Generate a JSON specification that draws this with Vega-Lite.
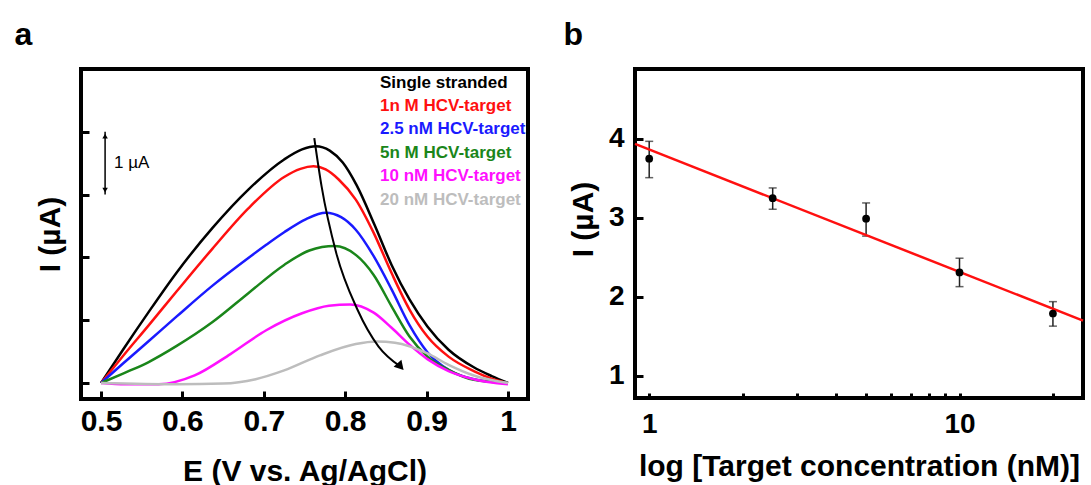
{
  "$schema": "https://vega.github.io/schema/vega-lite/v6.json",
  "background": "white",
  "padding": {"left": 12, "top": 17, "right": 5, "bottom": 0},
  "autosize": {"type": "pad"},
  "spacing": 31,
  "config": {
    "font": "Liberation Sans",
    "view": {"stroke": "black", "strokeWidth": 4},
    "axis": {
      "grid": false, "domain": false,
      "labelFont": "Liberation Sans", "titleFont": "Liberation Sans",
      "labelFontWeight": "bold", "titleFontWeight": "bold",
      "labelColor": "black", "titleColor": "black", "tickColor": "black",
      "tickWidth": 3, "tickSize": -8
    }
  },
  "datasets": {
    "dpv": [
      {"s": "Single stranded", "E": 0.500, "I": 0},
      {"s": "Single stranded", "E": 0.527, "I": 0.53},
      {"s": "Single stranded", "E": 0.558, "I": 1.12},
      {"s": "Single stranded", "E": 0.593, "I": 1.76},
      {"s": "Single stranded", "E": 0.637, "I": 2.47},
      {"s": "Single stranded", "E": 0.681, "I": 3.08},
      {"s": "Single stranded", "E": 0.725, "I": 3.56},
      {"s": "Single stranded", "E": 0.747, "I": 3.72},
      {"s": "Single stranded", "E": 0.764, "I": 3.77},
      {"s": "Single stranded", "E": 0.781, "I": 3.70},
      {"s": "Single stranded", "E": 0.797, "I": 3.51},
      {"s": "Single stranded", "E": 0.814, "I": 3.15},
      {"s": "Single stranded", "E": 0.836, "I": 2.52},
      {"s": "Single stranded", "E": 0.857, "I": 1.88},
      {"s": "Single stranded", "E": 0.879, "I": 1.33},
      {"s": "Single stranded", "E": 0.901, "I": 0.90},
      {"s": "Single stranded", "E": 0.927, "I": 0.53},
      {"s": "Single stranded", "E": 0.958, "I": 0.25},
      {"s": "Single stranded", "E": 0.980, "I": 0.11},
      {"s": "Single stranded", "E": 1.000, "I": 0},
      {"s": "1n M HCV-target", "E": 0.500, "I": 0},
      {"s": "1n M HCV-target", "E": 0.527, "I": 0.43},
      {"s": "1n M HCV-target", "E": 0.558, "I": 0.91},
      {"s": "1n M HCV-target", "E": 0.593, "I": 1.46},
      {"s": "1n M HCV-target", "E": 0.637, "I": 2.14},
      {"s": "1n M HCV-target", "E": 0.681, "I": 2.78},
      {"s": "1n M HCV-target", "E": 0.725, "I": 3.28},
      {"s": "1n M HCV-target", "E": 0.745, "I": 3.41},
      {"s": "1n M HCV-target", "E": 0.761, "I": 3.45},
      {"s": "1n M HCV-target", "E": 0.776, "I": 3.40},
      {"s": "1n M HCV-target", "E": 0.792, "I": 3.24},
      {"s": "1n M HCV-target", "E": 0.813, "I": 2.92},
      {"s": "1n M HCV-target", "E": 0.835, "I": 2.39},
      {"s": "1n M HCV-target", "E": 0.857, "I": 1.75},
      {"s": "1n M HCV-target", "E": 0.879, "I": 1.17},
      {"s": "1n M HCV-target", "E": 0.901, "I": 0.74},
      {"s": "1n M HCV-target", "E": 0.927, "I": 0.42},
      {"s": "1n M HCV-target", "E": 0.958, "I": 0.19},
      {"s": "1n M HCV-target", "E": 0.980, "I": 0.07},
      {"s": "1n M HCV-target", "E": 1.000, "I": 0},
      {"s": "2.5 nM HCV-target", "E": 0.500, "I": 0},
      {"s": "2.5 nM HCV-target", "E": 0.527, "I": 0.31},
      {"s": "2.5 nM HCV-target", "E": 0.558, "I": 0.66},
      {"s": "2.5 nM HCV-target", "E": 0.593, "I": 1.06},
      {"s": "2.5 nM HCV-target", "E": 0.637, "I": 1.55},
      {"s": "2.5 nM HCV-target", "E": 0.681, "I": 1.99},
      {"s": "2.5 nM HCV-target", "E": 0.703, "I": 2.20},
      {"s": "2.5 nM HCV-target", "E": 0.725, "I": 2.40},
      {"s": "2.5 nM HCV-target", "E": 0.752, "I": 2.61},
      {"s": "2.5 nM HCV-target", "E": 0.776, "I": 2.71},
      {"s": "2.5 nM HCV-target", "E": 0.795, "I": 2.64},
      {"s": "2.5 nM HCV-target", "E": 0.813, "I": 2.44},
      {"s": "2.5 nM HCV-target", "E": 0.835, "I": 2.02},
      {"s": "2.5 nM HCV-target", "E": 0.857, "I": 1.49},
      {"s": "2.5 nM HCV-target", "E": 0.879, "I": 0.92},
      {"s": "2.5 nM HCV-target", "E": 0.901, "I": 0.49},
      {"s": "2.5 nM HCV-target", "E": 0.927, "I": 0.21},
      {"s": "2.5 nM HCV-target", "E": 0.958, "I": 0.06},
      {"s": "2.5 nM HCV-target", "E": 1.000, "I": 0},
      {"s": "5n M HCV-target", "E": 0.500, "I": 0},
      {"s": "5n M HCV-target", "E": 0.527, "I": 0.15},
      {"s": "5n M HCV-target", "E": 0.558, "I": 0.33},
      {"s": "5n M HCV-target", "E": 0.593, "I": 0.59},
      {"s": "5n M HCV-target", "E": 0.637, "I": 0.97},
      {"s": "5n M HCV-target", "E": 0.681, "I": 1.43},
      {"s": "5n M HCV-target", "E": 0.725, "I": 1.88},
      {"s": "5n M HCV-target", "E": 0.756, "I": 2.11},
      {"s": "5n M HCV-target", "E": 0.787, "I": 2.18},
      {"s": "5n M HCV-target", "E": 0.813, "I": 2.04},
      {"s": "5n M HCV-target", "E": 0.835, "I": 1.72},
      {"s": "5n M HCV-target", "E": 0.857, "I": 1.22},
      {"s": "5n M HCV-target", "E": 0.879, "I": 0.74},
      {"s": "5n M HCV-target", "E": 0.901, "I": 0.42},
      {"s": "5n M HCV-target", "E": 0.927, "I": 0.21},
      {"s": "5n M HCV-target", "E": 0.958, "I": 0.05},
      {"s": "5n M HCV-target", "E": 1.000, "I": 0},
      {"s": "10 nM HCV-target", "E": 0.500, "I": 0},
      {"s": "10 nM HCV-target", "E": 0.530, "I": -0.02},
      {"s": "10 nM HCV-target", "E": 0.571, "I": -0.02},
      {"s": "10 nM HCV-target", "E": 0.615, "I": 0.12},
      {"s": "10 nM HCV-target", "E": 0.659, "I": 0.46},
      {"s": "10 nM HCV-target", "E": 0.703, "I": 0.84},
      {"s": "10 nM HCV-target", "E": 0.747, "I": 1.11},
      {"s": "10 nM HCV-target", "E": 0.780, "I": 1.23},
      {"s": "10 nM HCV-target", "E": 0.806, "I": 1.25},
      {"s": "10 nM HCV-target", "E": 0.835, "I": 1.12},
      {"s": "10 nM HCV-target", "E": 0.857, "I": 0.88},
      {"s": "10 nM HCV-target", "E": 0.879, "I": 0.61},
      {"s": "10 nM HCV-target", "E": 0.901, "I": 0.38},
      {"s": "10 nM HCV-target", "E": 0.927, "I": 0.19},
      {"s": "10 nM HCV-target", "E": 0.958, "I": 0.06},
      {"s": "10 nM HCV-target", "E": 1.000, "I": -0.02},
      {"s": "20 nM HCV-target", "E": 0.500, "I": 0},
      {"s": "20 nM HCV-target", "E": 0.593, "I": -0.02},
      {"s": "20 nM HCV-target", "E": 0.650, "I": -0.01},
      {"s": "20 nM HCV-target", "E": 0.690, "I": 0.06},
      {"s": "20 nM HCV-target", "E": 0.725, "I": 0.20},
      {"s": "20 nM HCV-target", "E": 0.769, "I": 0.44},
      {"s": "20 nM HCV-target", "E": 0.813, "I": 0.62},
      {"s": "20 nM HCV-target", "E": 0.839, "I": 0.66},
      {"s": "20 nM HCV-target", "E": 0.861, "I": 0.64},
      {"s": "20 nM HCV-target", "E": 0.901, "I": 0.47},
      {"s": "20 nM HCV-target", "E": 0.927, "I": 0.29},
      {"s": "20 nM HCV-target", "E": 0.958, "I": 0.12},
      {"s": "20 nM HCV-target", "E": 1.000, "I": 0}
    ],
    "arrow": [
      {"E": 0.762, "I": 3.90},
      {"E": 0.771, "I": 3.13},
      {"E": 0.789, "I": 2.07},
      {"E": 0.815, "I": 1.17},
      {"E": 0.841, "I": 0.58},
      {"E": 0.868, "I": 0.26}
    ],
    "arrowhead": [{"E": 0.868, "I": 0.26}],
    "bar": [{"E": 0.505, "lo": 3.0, "hi": 4.0}],
    "barends": [{"E": 0.505, "I": 3.93, "d": "up"}, {"E": 0.505, "I": 3.07, "d": "down"}],
    "barlabel": [{"E": 0.516, "I": 3.5, "t": "1 µA"}],
    "cal": [
      {"c": 1, "I": 3.75, "lo": 3.51, "hi": 3.97},
      {"c": 2.5, "I": 3.25, "lo": 3.11, "hi": 3.38},
      {"c": 5, "I": 2.99, "lo": 2.77, "hi": 3.19},
      {"c": 10, "I": 2.31, "lo": 2.13, "hi": 2.49},
      {"c": 20, "I": 1.79, "lo": 1.63, "hi": 1.94}
    ],
    "fit": [{"c": 0.9, "I": 3.937}, {"c": 25, "I": 1.70}]
  },
  "hconcat": [
    {
      "width": 447, "height": 330,
      "title": {"text": "a", "anchor": "start", "fontSize": 32, "fontWeight": "bold", "font": "Liberation Sans", "dx": -21, "offset": 17, "color": "black"},
      "layer": [
        {
          "data": {"name": "dpv"},
          "mark": {"type": "line", "strokeWidth": 2.5, "interpolate": "monotone"},
          "encoding": {
            "x": {"field": "E", "type": "quantitative", "scale": {"domain": [0.4754, 1.0246], "nice": false, "zero": false},
                  "axis": {"values": [0.5, 0.6, 0.7, 0.8, 0.9, 1.0], "format": ".1~f", "labelFontSize": 30, "labelPadding": 15, "title": "E (V vs. Ag/AgCl)", "titleFontSize": 30, "titlePadding": 20}},
            "y": {"field": "I", "type": "quantitative", "scale": {"domain": [-0.255, 5.0], "nice": false, "zero": false},
                  "axis": {"values": [0, 1, 2, 3, 4], "labels": false, "title": "I (µA)", "titleFontSize": 30, "titlePadding": 14}},
            "color": {"field": "s", "type": "nominal",
                      "scale": {"domain": ["Single stranded", "1n M HCV-target", "2.5 nM HCV-target", "5n M HCV-target", "10 nM HCV-target", "20 nM HCV-target"],
                                "range": ["#000000", "#ff1010", "#1a1aff", "#1a861a", "#ff10ff", "#bdbdbd"]},
                      "legend": {"orient": "none", "legendX": 282, "legendY": 5, "title": null, "symbolSize": 0, "symbolStrokeWidth": 0, "symbolOpacity": 0, "labelOffset": 0,
                                 "labelFontSize": 17, "labelFontWeight": "bold", "labelFont": "Liberation Sans", "rowPadding": 5.4, "labelLimit": 300,
                                 "encode": {"labels": {"update": {"fill": {"scale": "color", "field": "value"}}}}},
                      "sort": null},
            "detail": {"field": "s"}
          }
        },
        {
          "data": {"name": "arrow"},
          "mark": {"type": "line", "color": "black", "strokeWidth": 2, "interpolate": "monotone"},
          "encoding": {"x": {"field": "E", "type": "quantitative"}, "y": {"field": "I", "type": "quantitative"}}
        },
        {
          "data": {"name": "arrowhead"},
          "mark": {"type": "point", "shape": "triangle-right", "angle": 48, "filled": true, "color": "black", "size": 110, "opacity": 1},
          "encoding": {"x": {"field": "E", "type": "quantitative"}, "y": {"field": "I", "type": "quantitative"}}
        },
        {
          "data": {"name": "bar"},
          "mark": {"type": "rule", "color": "black", "strokeWidth": 1.5},
          "encoding": {"x": {"field": "E", "type": "quantitative"}, "y": {"field": "lo", "type": "quantitative"}, "y2": {"field": "hi"}}
        },
        {
          "data": {"name": "barends"},
          "mark": {"type": "point", "filled": true, "color": "black", "size": 30, "opacity": 1},
          "encoding": {"x": {"field": "E", "type": "quantitative"}, "y": {"field": "I", "type": "quantitative"},
                       "shape": {"field": "d", "type": "nominal", "scale": {"domain": ["up", "down"], "range": ["triangle-up", "triangle-down"]}, "legend": null}}
        },
        {
          "data": {"name": "barlabel"},
          "mark": {"type": "text", "align": "left", "baseline": "middle", "fontSize": 17, "font": "Liberation Sans", "color": "black"},
          "encoding": {"x": {"field": "E", "type": "quantitative"}, "y": {"field": "I", "type": "quantitative"}, "text": {"field": "t"}}
        }
      ]
    },
    {
      "width": 448, "height": 329,
      "title": {"text": "b", "anchor": "start", "fontSize": 32, "fontWeight": "bold", "font": "Liberation Sans", "dx": -5, "offset": 17, "color": "black"},
      "layer": [
        {
          "data": {"name": "cal"},
          "mark": {"type": "rule", "color": "#222222", "strokeWidth": 1.5},
          "encoding": {
            "x": {"field": "c", "type": "quantitative", "scale": {"type": "log", "domain": [0.9, 25], "nice": false},
                  "axis": {"values": [1, 2, 3, 4, 5, 6, 7, 8, 9, 10, 20], "labelExpr": "datum.value == 1 || datum.value == 10 ? datum.value : ''", "labelFontSize": 28, "labelPadding": 17, "tickSize": -5,
                           "title": "log [Target concentration (nM)]", "titleFontSize": 30, "titlePadding": 13}},
            "y": {"field": "lo", "type": "quantitative", "scale": {"domain": [0.72, 4.886], "nice": false, "zero": false},
                  "axis": {"values": [1, 2, 3, 4], "format": "d", "labelFontSize": 28, "labelPadding": 19, "title": "I (µA)", "titleFontSize": 30, "titlePadding": 10, "titleY": 150}},
            "y2": {"field": "hi"}
          }
        },
        {
          "data": {"name": "cal"},
          "mark": {"type": "tick", "orient": "horizontal", "size": 8, "thickness": 1.5, "color": "#222222"},
          "encoding": {"x": {"field": "c", "type": "quantitative"}, "y": {"field": "lo", "type": "quantitative"}}
        },
        {
          "data": {"name": "cal"},
          "mark": {"type": "tick", "orient": "horizontal", "size": 8, "thickness": 1.5, "color": "#222222"},
          "encoding": {"x": {"field": "c", "type": "quantitative"}, "y": {"field": "hi", "type": "quantitative"}}
        },
        {
          "data": {"name": "fit"},
          "mark": {"type": "line", "color": "#ff1010", "strokeWidth": 2.5},
          "encoding": {"x": {"field": "c", "type": "quantitative"}, "y": {"field": "I", "type": "quantitative"}}
        },
        {
          "data": {"name": "cal"},
          "mark": {"type": "point", "filled": true, "color": "black", "size": 60, "opacity": 1},
          "encoding": {"x": {"field": "c", "type": "quantitative"}, "y": {"field": "I", "type": "quantitative"}}
        }
      ]
    }
  ]
}
